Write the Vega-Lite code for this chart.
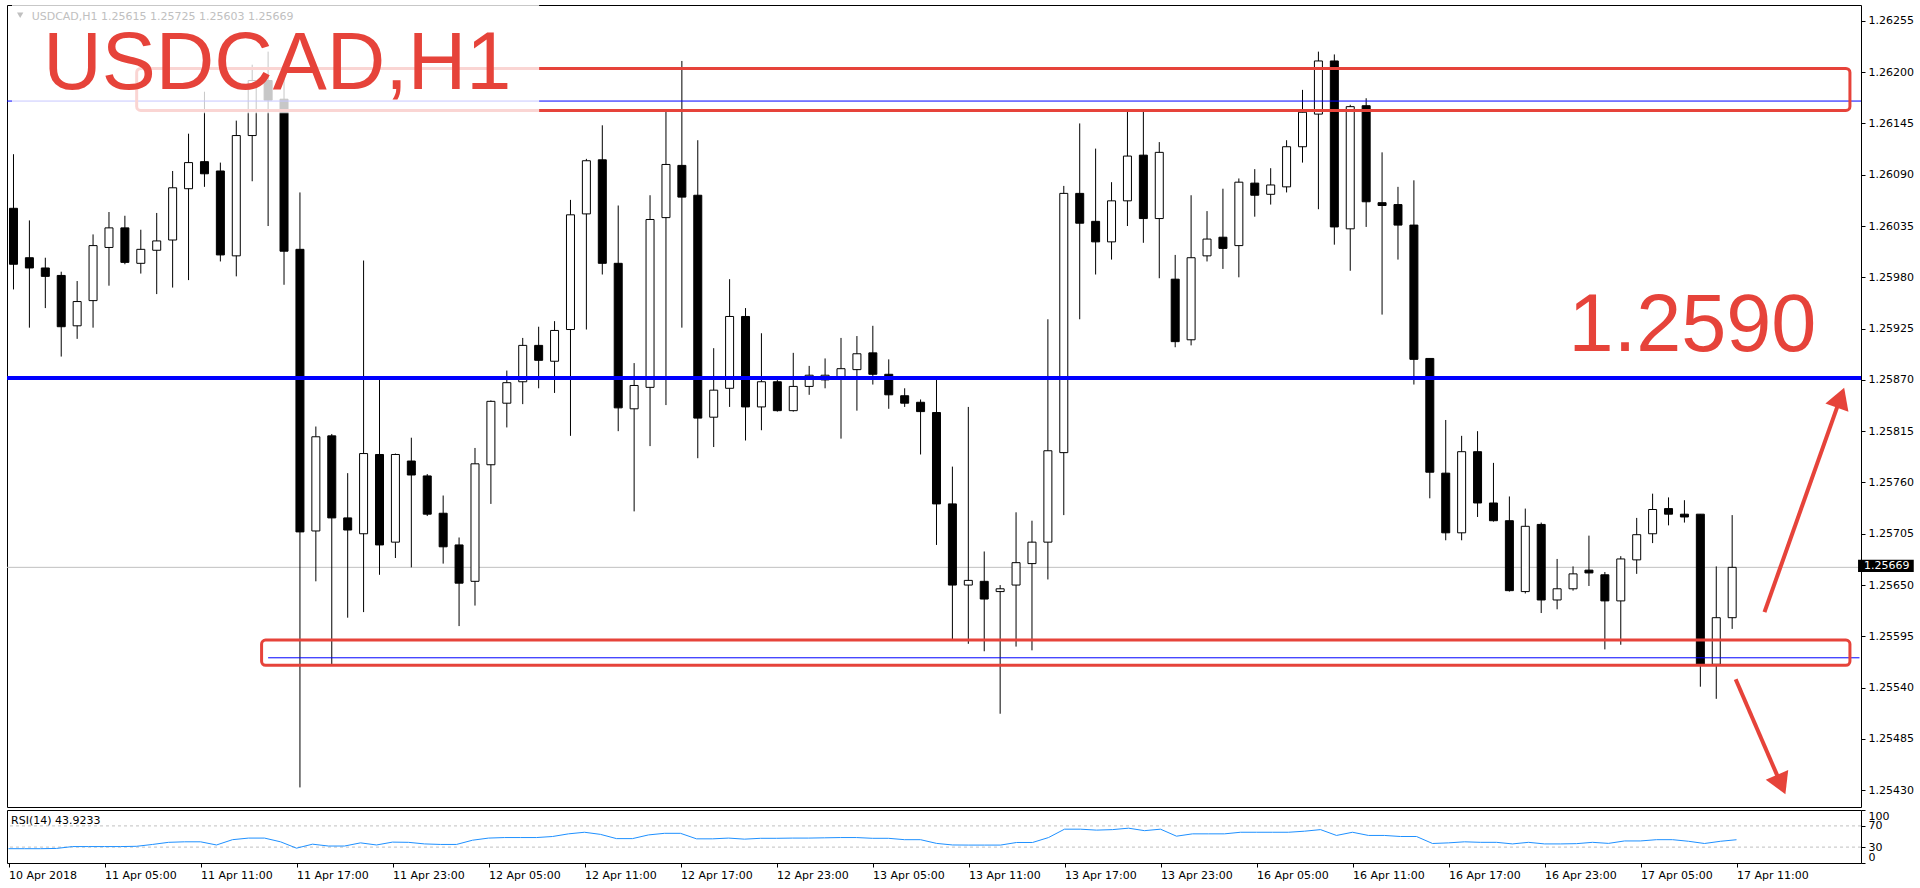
{
  "$schema": "https://vega.github.io/schema/vega-lite/v6.json",
  "background": "white",
  "padding": {"left": 4, "top": 4, "right": 0, "bottom": 0},
  "bounds": "flush",
  "spacing": 3,
  "config": {
    "view": {"stroke": "black", "strokeWidth": 1},
    "axis": {"labelFont": "DejaVu Sans", "labelFontSize": 11, "labelColor": "black", "tickColor": "black", "tickSize": 4, "domain": false, "grid": false}
  },
  "datasets": {
    "bars": [
      {"i":0,"o":1.26054,"h":1.26112,"l":1.25967,"c":1.25994,"rsi":27},
      {"i":1,"o":1.26001,"h":1.26041,"l":1.25926,"c":1.25990,"rsi":27},
      {"i":2,"o":1.25990,"h":1.26001,"l":1.25947,"c":1.25981,"rsi":27},
      {"i":3,"o":1.25982,"h":1.25986,"l":1.25895,"c":1.25927,"rsi":27.5},
      {"i":4,"o":1.25928,"h":1.25976,"l":1.25914,"c":1.25954,"rsi":31},
      {"i":5,"o":1.25955,"h":1.26026,"l":1.25926,"c":1.26014,"rsi":31},
      {"i":6,"o":1.26012,"h":1.26050,"l":1.25971,"c":1.26033,"rsi":31},
      {"i":7,"o":1.26033,"h":1.26046,"l":1.25994,"c":1.25996,"rsi":31},
      {"i":8,"o":1.25995,"h":1.26031,"l":1.25984,"c":1.26010,"rsi":31.5},
      {"i":9,"o":1.26009,"h":1.26049,"l":1.25962,"c":1.26019,"rsi":35},
      {"i":10,"o":1.26020,"h":1.26094,"l":1.25969,"c":1.26076,"rsi":39},
      {"i":11,"o":1.26075,"h":1.26134,"l":1.25977,"c":1.26103,"rsi":40},
      {"i":12,"o":1.26104,"h":1.26179,"l":1.26077,"c":1.26091,"rsi":40},
      {"i":13,"o":1.26094,"h":1.26103,"l":1.25997,"c":1.26004,"rsi":34},
      {"i":14,"o":1.26003,"h":1.26148,"l":1.25981,"c":1.26132,"rsi":44},
      {"i":15,"o":1.26132,"h":1.26208,"l":1.26083,"c":1.26191,"rsi":47},
      {"i":16,"o":1.26191,"h":1.26222,"l":1.26035,"c":1.26170,"rsi":47},
      {"i":17,"o":1.26171,"h":1.26193,"l":1.25972,"c":1.26008,"rsi":40},
      {"i":18,"o":1.26010,"h":1.26071,"l":1.25433,"c":1.25707,"rsi":28},
      {"i":19,"o":1.25708,"h":1.25820,"l":1.25654,"c":1.25809,"rsi":35.5},
      {"i":20,"o":1.25810,"h":1.25812,"l":1.25565,"c":1.25722,"rsi":32},
      {"i":21,"o":1.25722,"h":1.25770,"l":1.25615,"c":1.25709,"rsi":32},
      {"i":22,"o":1.25705,"h":1.25998,"l":1.25621,"c":1.25791,"rsi":38},
      {"i":23,"o":1.25790,"h":1.25872,"l":1.25661,"c":1.25693,"rsi":34},
      {"i":24,"o":1.25696,"h":1.25791,"l":1.25679,"c":1.25790,"rsi":39.4},
      {"i":25,"o":1.25783,"h":1.25808,"l":1.25669,"c":1.25768,"rsi":39},
      {"i":26,"o":1.25767,"h":1.25769,"l":1.25724,"c":1.25726,"rsi":36},
      {"i":27,"o":1.25727,"h":1.25746,"l":1.25673,"c":1.25691,"rsi":35},
      {"i":28,"o":1.25693,"h":1.25701,"l":1.25606,"c":1.25652,"rsi":35},
      {"i":29,"o":1.25654,"h":1.25797,"l":1.25628,"c":1.25780,"rsi":43},
      {"i":30,"o":1.25779,"h":1.25848,"l":1.25737,"c":1.25847,"rsi":47},
      {"i":31,"o":1.25845,"h":1.25880,"l":1.25819,"c":1.25867,"rsi":48},
      {"i":32,"o":1.25868,"h":1.25915,"l":1.25844,"c":1.25907,"rsi":48},
      {"i":33,"o":1.25907,"h":1.25927,"l":1.25861,"c":1.25891,"rsi":48},
      {"i":34,"o":1.25890,"h":1.25933,"l":1.25856,"c":1.25923,"rsi":50},
      {"i":35,"o":1.25924,"h":1.26063,"l":1.25810,"c":1.26047,"rsi":55},
      {"i":36,"o":1.26048,"h":1.26107,"l":1.25924,"c":1.26105,"rsi":58},
      {"i":37,"o":1.26106,"h":1.26143,"l":1.25983,"c":1.25995,"rsi":54},
      {"i":38,"o":1.25995,"h":1.26057,"l":1.25815,"c":1.25840,"rsi":46},
      {"i":39,"o":1.25839,"h":1.25888,"l":1.25729,"c":1.25864,"rsi":46},
      {"i":40,"o":1.25862,"h":1.26068,"l":1.25799,"c":1.26042,"rsi":53},
      {"i":41,"o":1.26044,"h":1.26159,"l":1.25843,"c":1.26101,"rsi":56},
      {"i":42,"o":1.26100,"h":1.26212,"l":1.25926,"c":1.26066,"rsi":56},
      {"i":43,"o":1.26068,"h":1.26127,"l":1.25786,"c":1.25829,"rsi":45.6},
      {"i":44,"o":1.25830,"h":1.25904,"l":1.25798,"c":1.25859,"rsi":45.6},
      {"i":45,"o":1.25861,"h":1.25978,"l":1.25841,"c":1.25938,"rsi":47},
      {"i":46,"o":1.25938,"h":1.25947,"l":1.25805,"c":1.25841,"rsi":45},
      {"i":47,"o":1.25841,"h":1.25920,"l":1.25816,"c":1.25868,"rsi":46.6},
      {"i":48,"o":1.25868,"h":1.25871,"l":1.25836,"c":1.25837,"rsi":46.6},
      {"i":49,"o":1.25837,"h":1.25899,"l":1.25836,"c":1.25863,"rsi":47},
      {"i":50,"o":1.25863,"h":1.25885,"l":1.25854,"c":1.25875,"rsi":47},
      {"i":51,"o":1.25870,"h":1.25893,"l":1.25861,"c":1.25875,"rsi":47.5},
      {"i":52,"o":1.25873,"h":1.25915,"l":1.25807,"c":1.25882,"rsi":48},
      {"i":53,"o":1.25881,"h":1.25917,"l":1.25837,"c":1.25898,"rsi":48},
      {"i":54,"o":1.25899,"h":1.25928,"l":1.25865,"c":1.25876,"rsi":46.6},
      {"i":55,"o":1.25876,"h":1.25892,"l":1.25839,"c":1.25854,"rsi":46.6},
      {"i":56,"o":1.25853,"h":1.25861,"l":1.25841,"c":1.25845,"rsi":44},
      {"i":57,"o":1.25846,"h":1.25849,"l":1.25790,"c":1.25836,"rsi":44},
      {"i":58,"o":1.25835,"h":1.25871,"l":1.25693,"c":1.25737,"rsi":37},
      {"i":59,"o":1.25737,"h":1.25777,"l":1.25592,"c":1.25650,"rsi":34},
      {"i":60,"o":1.25650,"h":1.25841,"l":1.25587,"c":1.25655,"rsi":33.8},
      {"i":61,"o":1.25654,"h":1.25686,"l":1.25579,"c":1.25635,"rsi":33.8},
      {"i":62,"o":1.25643,"h":1.25650,"l":1.25512,"c":1.25646,"rsi":33.8},
      {"i":63,"o":1.25650,"h":1.25728,"l":1.25584,"c":1.25674,"rsi":38.7},
      {"i":64,"o":1.25673,"h":1.25719,"l":1.25580,"c":1.25696,"rsi":38.7},
      {"i":65,"o":1.25696,"h":1.25935,"l":1.25656,"c":1.25794,"rsi":48},
      {"i":66,"o":1.25792,"h":1.26078,"l":1.25725,"c":1.26070,"rsi":63.8},
      {"i":67,"o":1.26070,"h":1.26145,"l":1.25935,"c":1.26038,"rsi":63.8},
      {"i":68,"o":1.26040,"h":1.26118,"l":1.25983,"c":1.26018,"rsi":62},
      {"i":69,"o":1.26018,"h":1.26082,"l":1.25999,"c":1.26062,"rsi":63},
      {"i":70,"o":1.26062,"h":1.26159,"l":1.26035,"c":1.26110,"rsi":65.7},
      {"i":71,"o":1.26111,"h":1.26159,"l":1.26017,"c":1.26043,"rsi":61},
      {"i":72,"o":1.26043,"h":1.26125,"l":1.25979,"c":1.26114,"rsi":63.8},
      {"i":73,"o":1.25978,"h":1.26004,"l":1.25905,"c":1.25911,"rsi":50.6},
      {"i":74,"o":1.25913,"h":1.26068,"l":1.25907,"c":1.26001,"rsi":55},
      {"i":75,"o":1.26003,"h":1.26051,"l":1.25997,"c":1.26021,"rsi":55},
      {"i":76,"o":1.26023,"h":1.26075,"l":1.25989,"c":1.26011,"rsi":55},
      {"i":77,"o":1.26014,"h":1.26086,"l":1.25980,"c":1.26082,"rsi":58},
      {"i":78,"o":1.26081,"h":1.26096,"l":1.26045,"c":1.26068,"rsi":58},
      {"i":79,"o":1.26069,"h":1.26097,"l":1.26058,"c":1.26079,"rsi":58},
      {"i":80,"o":1.26077,"h":1.26127,"l":1.26071,"c":1.26120,"rsi":58},
      {"i":81,"o":1.26120,"h":1.26181,"l":1.26103,"c":1.26157,"rsi":60},
      {"i":82,"o":1.26155,"h":1.26222,"l":1.26053,"c":1.26212,"rsi":63},
      {"i":83,"o":1.26212,"h":1.26219,"l":1.26015,"c":1.26034,"rsi":52},
      {"i":84,"o":1.26032,"h":1.26165,"l":1.25987,"c":1.26163,"rsi":58},
      {"i":85,"o":1.26164,"h":1.26172,"l":1.26034,"c":1.26061,"rsi":52},
      {"i":86,"o":1.26060,"h":1.26114,"l":1.25940,"c":1.26057,"rsi":52},
      {"i":87,"o":1.26058,"h":1.26077,"l":1.25999,"c":1.26036,"rsi":50},
      {"i":88,"o":1.26036,"h":1.26084,"l":1.25865,"c":1.25892,"rsi":50},
      {"i":89,"o":1.25893,"h":1.25893,"l":1.25743,"c":1.25771,"rsi":36.8},
      {"i":90,"o":1.25770,"h":1.25827,"l":1.25698,"c":1.25706,"rsi":38},
      {"i":91,"o":1.25706,"h":1.25810,"l":1.25698,"c":1.25793,"rsi":40},
      {"i":92,"o":1.25793,"h":1.25815,"l":1.25723,"c":1.25738,"rsi":39},
      {"i":93,"o":1.25738,"h":1.25781,"l":1.25718,"c":1.25719,"rsi":39},
      {"i":94,"o":1.25719,"h":1.25745,"l":1.25643,"c":1.25644,"rsi":36},
      {"i":95,"o":1.25643,"h":1.25732,"l":1.25641,"c":1.25713,"rsi":39},
      {"i":96,"o":1.25715,"h":1.25717,"l":1.25620,"c":1.25634,"rsi":36},
      {"i":97,"o":1.25634,"h":1.25678,"l":1.25624,"c":1.25646,"rsi":36},
      {"i":98,"o":1.25646,"h":1.25670,"l":1.25644,"c":1.25662,"rsi":36.5},
      {"i":99,"o":1.25666,"h":1.25703,"l":1.25649,"c":1.25663,"rsi":39},
      {"i":100,"o":1.25661,"h":1.25664,"l":1.25581,"c":1.25633,"rsi":37},
      {"i":101,"o":1.25633,"h":1.25681,"l":1.25586,"c":1.25678,"rsi":41.6},
      {"i":102,"o":1.25677,"h":1.25722,"l":1.25662,"c":1.25704,"rsi":41.6},
      {"i":103,"o":1.25705,"h":1.25748,"l":1.25695,"c":1.25731,"rsi":44},
      {"i":104,"o":1.25732,"h":1.25744,"l":1.25714,"c":1.25726,"rsi":44},
      {"i":105,"o":1.25726,"h":1.25741,"l":1.25717,"c":1.25723,"rsi":41},
      {"i":106,"o":1.25726,"h":1.25726,"l":1.25541,"c":1.25565,"rsi":36.8},
      {"i":107,"o":1.25565,"h":1.25670,"l":1.25528,"c":1.25615,"rsi":41},
      {"i":108,"o":1.25615,"h":1.25725,"l":1.25603,"c":1.25669,"rsi":43.92}
    ],
    "levels": [
      {"level": "bid", "price": 1.25669},
      {"level": "pivot", "price": 1.25872},
      {"level": "resistance", "price": 1.26169},
      {"level": "support", "price": 1.25572, "from": 16}
    ],
    "zones": [
      {"zone": "resistance", "x1": 7.74, "x2": 115.4, "top": 1.26204, "bottom": 1.26159},
      {"zone": "support", "x1": 15.59, "x2": 115.4, "top": 1.25591, "bottom": 1.25564}
    ],
    "rsiLevels": [{"level": 30}, {"level": 70}]
  },
  "vconcat": [
    {
      "width": 1854,
      "height": 802,
      "layer": [
        {
          "data": {"name": "levels"},
          "transform": [{"filter": "datum.level == 'bid'"}],
          "mark": {"type": "rule", "color": "#c0c0c0", "strokeWidth": 1},
          "encoding": {"y": {"field": "price", "type": "quantitative"}}
        },
        {
          "data": {"name": "bars"},
          "mark": {"type": "rule", "color": "black", "strokeWidth": 1, "clip": true},
          "encoding": {
            "x": {"field": "i", "type": "quantitative", "scale": {"domain": [-0.09375, 115.78125], "nice": false, "zero": false}, "axis": null},
            "y": {
              "field": "l", "type": "quantitative",
              "scale": {"domain": [1.25412, 1.26272], "nice": false, "zero": false},
              "axis": {
                "orient": "right", "title": null, "format": ".5f", "labelPadding": 3, "labelOverlap": false,
                "values": [1.26255, 1.262, 1.26145, 1.2609, 1.26035, 1.2598, 1.25925, 1.2587, 1.25815, 1.2576, 1.25705, 1.2565, 1.25595, 1.2554, 1.25485, 1.2543]
              }
            },
            "y2": {"field": "h"}
          }
        },
        {
          "data": {"name": "bars"},
          "mark": {"type": "bar", "size": 8, "stroke": "black", "strokeWidth": 1, "clip": true},
          "encoding": {
            "x": {"field": "i", "type": "quantitative", "axis": null},
            "y": {"field": "o", "type": "quantitative"},
            "y2": {"field": "c"},
            "fill": {"condition": {"test": "datum.c >= datum.o", "value": "white"}, "value": "black"}
          }
        },
        {
          "data": {"name": "levels"},
          "transform": [{"filter": "datum.level == 'pivot'"}],
          "mark": {"type": "rule", "color": "#0000ff", "strokeWidth": 4},
          "encoding": {"y": {"field": "price", "type": "quantitative"}}
        },
        {
          "data": {"name": "levels"},
          "transform": [{"filter": "datum.level == 'resistance'"}],
          "mark": {"type": "rule", "color": "#0000ff", "strokeWidth": 1},
          "encoding": {"y": {"field": "price", "type": "quantitative"}}
        },
        {
          "data": {"name": "levels"},
          "transform": [{"filter": "datum.level == 'support'"}],
          "mark": {"type": "rule", "color": "#0000ff", "strokeWidth": 1, "clip": true},
          "encoding": {
            "x": {"field": "from", "type": "quantitative", "axis": null},
            "x2": {"datum": 116},
            "y": {"field": "price", "type": "quantitative"}
          }
        },
        {
          "data": {"name": "zones"},
          "mark": {"type": "rect", "filled": false, "color": "#e6433a", "strokeWidth": 3, "cornerRadius": 4, "clip": true},
          "encoding": {
            "x": {"field": "x1", "type": "quantitative", "axis": null},
            "x2": {"field": "x2"},
            "y": {"field": "top", "type": "quantitative"},
            "y2": {"field": "bottom"}
          }
        },
        {
          "data": {"values": [{}]},
          "mark": {"type": "rect", "color": "white", "opacity": 0.78, "clip": true},
          "encoding": {
            "x": {"datum": -0.09375, "axis": null},
            "x2": {"datum": 33.03},
            "y": {"datum": 1.26272},
            "y2": {"datum": 1.26156}
          }
        },
        {
          "data": {"values": [{}]},
          "mark": {"type": "point", "shape": "triangle-down", "size": 40, "filled": true, "color": "#c0c0c0", "opacity": 1},
          "encoding": {"x": {"datum": 0.42, "axis": null}, "y": {"datum": 1.26261}}
        },
        {
          "data": {"values": [{}]},
          "mark": {"type": "text", "text": "USDCAD,H1  1.25615 1.25725 1.25603 1.25669", "font": "DejaVu Sans", "fontSize": 11, "color": "#c0c0c0", "align": "left", "baseline": "alphabetic"},
          "encoding": {"x": {"datum": 1.14, "axis": null}, "y": {"datum": 1.26256}}
        },
        {
          "data": {"values": [{}]},
          "mark": {"type": "text", "text": "USDCAD,H1", "font": "Liberation Sans", "fontSize": 81, "color": "#e6433a", "align": "left", "baseline": "alphabetic"},
          "encoding": {"x": {"datum": 1.875, "axis": null}, "y": {"datum": 1.26182}}
        },
        {
          "data": {"values": [{}]},
          "mark": {"type": "text", "text": "1.2590", "font": "Liberation Sans", "fontSize": 81, "color": "#e6433a", "align": "left", "baseline": "alphabetic"},
          "encoding": {"x": {"datum": 97.72, "axis": null}, "y": {"datum": 1.25901}}
        },
        {
          "data": {"values": [{}]},
          "mark": {"type": "rule", "color": "#e6433a", "strokeWidth": 4},
          "encoding": {
            "x": {"datum": 110.03, "axis": null}, "x2": {"datum": 114.81},
            "y": {"datum": 1.25621}, "y2": {"datum": 1.25851}
          }
        },
        {
          "data": {"values": [{}]},
          "mark": {"type": "point", "shape": "triangle-up", "angle": 20, "size": 600, "filled": true, "color": "#e6433a", "opacity": 1},
          "encoding": {"x": {"datum": 114.81, "axis": null}, "y": {"datum": 1.25851}}
        },
        {
          "data": {"values": [{}]},
          "mark": {"type": "rule", "color": "#e6433a", "strokeWidth": 4},
          "encoding": {
            "x": {"datum": 108.22, "axis": null}, "x2": {"datum": 111.08},
            "y": {"datum": 1.25549}, "y2": {"datum": 1.25436}
          }
        },
        {
          "data": {"values": [{}]},
          "mark": {"type": "point", "shape": "triangle-up", "angle": 156.6, "size": 600, "filled": true, "color": "#e6433a", "opacity": 1},
          "encoding": {"x": {"datum": 111.08, "axis": null}, "y": {"datum": 1.25436}}
        },
        {
          "data": {"values": [{}]},
          "mark": {"type": "rect", "color": "black", "clip": false},
          "encoding": {
            "x": {"datum": 115.91, "axis": null}, "x2": {"datum": 119.41},
            "y": {"datum": 1.25677}, "y2": {"datum": 1.25664}
          }
        },
        {
          "data": {"values": [{}]},
          "mark": {"type": "text", "text": "1.25669", "font": "DejaVu Sans", "fontSize": 11, "color": "white", "align": "left", "baseline": "middle", "clip": false},
          "encoding": {"x": {"datum": 116.28, "axis": null}, "y": {"datum": 1.2567}}
        }
      ]
    },
    {
      "width": 1854,
      "height": 53,
      "layer": [
        {
          "data": {"name": "rsiLevels"},
          "mark": {"type": "rule", "color": "#c0c0c0", "strokeWidth": 1, "strokeDash": [3, 3]},
          "encoding": {
            "y": {
              "field": "level", "type": "quantitative",
              "scale": {"domain": [0, 100], "nice": false, "zero": false},
              "axis": {"orient": "right", "title": null, "values": [0, 30, 70, 100], "tickCount": 4, "labelOverlap": false, "labelPadding": 3, "labelOffset": {"condition": {"test": "datum.value == 0", "value": -6}, "value": 0}, "labelBaseline": {"condition": {"test": "datum.value == 100", "value": "top"}, "value": "middle"}}
            }
          }
        },
        {
          "data": {"name": "bars"},
          "mark": {"type": "line", "color": "#1e90ff", "strokeWidth": 1, "clip": true},
          "encoding": {
            "x": {
              "field": "i", "type": "quantitative",
              "scale": {"domain": [-0.09375, 115.78125], "nice": false, "zero": false},
              "axis": {
                "title": null, "orient": "bottom", "labelAlign": "left", "labelFlush": false, "labelOverlap": false, "labelPadding": 2,
                "values": [0, 6, 12, 18, 24, 30, 36, 42, 48, 54, 60, 66, 72, 78, 84, 90, 96, 102, 108],
                "labelExpr": "['10 Apr 2018','11 Apr 05:00','11 Apr 11:00','11 Apr 17:00','11 Apr 23:00','12 Apr 05:00','12 Apr 11:00','12 Apr 17:00','12 Apr 23:00','13 Apr 05:00','13 Apr 11:00','13 Apr 17:00','13 Apr 23:00','16 Apr 05:00','16 Apr 11:00','16 Apr 17:00','16 Apr 23:00','17 Apr 05:00','17 Apr 11:00'][round(datum.value / 6)]"
              }
            },
            "y": {
              "field": "rsi", "type": "quantitative",
              "axis": {"orient": "right", "title": null, "values": [0, 30, 70, 100], "tickCount": 4, "labelOverlap": false, "labelPadding": 3, "labelOffset": {"condition": {"test": "datum.value == 0", "value": -6}, "value": 0}, "labelBaseline": {"condition": {"test": "datum.value == 100", "value": "top"}, "value": "middle"}}
            }
          }
        },
        {
          "data": {"values": [{}]},
          "mark": {"type": "text", "text": "RSI(14) 43.9233", "font": "DejaVu Sans", "fontSize": 11, "color": "black", "align": "left", "baseline": "alphabetic"},
          "encoding": {"x": {"datum": 0.16}, "y": {"datum": 73.7}}
        }
      ]
    }
  ]
}
